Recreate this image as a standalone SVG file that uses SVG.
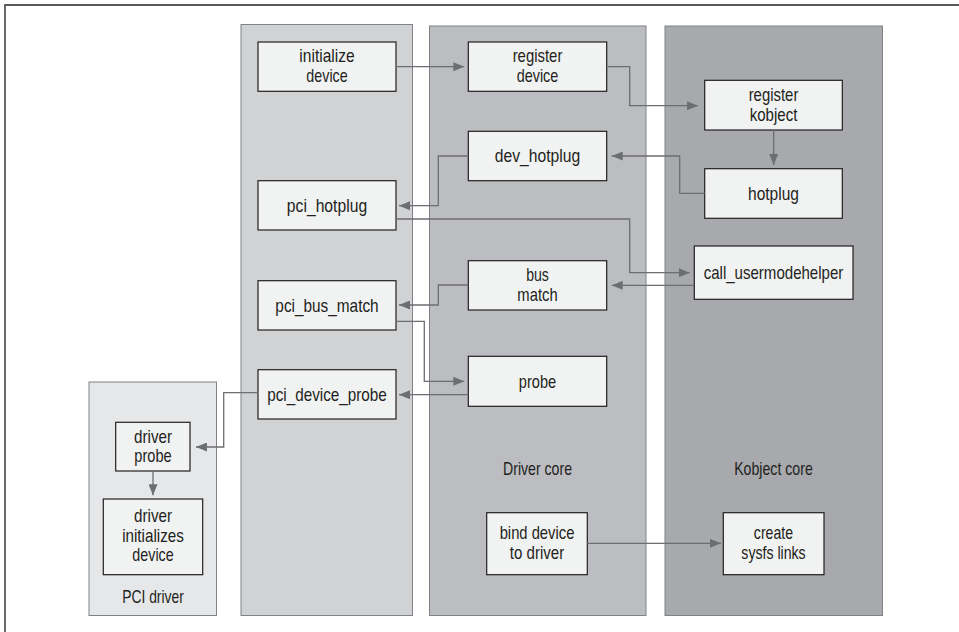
<svg xmlns="http://www.w3.org/2000/svg" width="959" height="632" viewBox="0 0 959 632">
<defs>
<marker id="ah" markerWidth="11" markerHeight="9" refX="11" refY="4.5" orient="auto" markerUnits="userSpaceOnUse">
<path d="M0,0 L11,4.5 L0,9 Z" fill="#6d6e71"/>
</marker>
<style>
.frame{fill:none;stroke:#58595b;stroke-width:1.8}
.col{stroke:#808285;stroke-width:1}
.node rect{fill:#f1f2f2;stroke:#231f20;stroke-width:1.2}
text{font-family:"Liberation Sans",Arial,sans-serif;font-size:19px;fill:#231f20;text-anchor:middle}
.conn path{fill:none;stroke:#6d6e71;stroke-width:1.3;marker-end:url(#ah)}
</style>
</defs>
<rect width="959" height="632" fill="#ffffff"/>
<path class="frame" d="M5,632 V5 H959"/>

<g id="col-pci">
<rect class="col" x="241" y="24.5" width="171.5" height="591" fill="#d1d2d4"/>
</g>
<g id="col-driver-core">
<rect class="col" x="429.5" y="26" width="216.5" height="589.5" fill="#bcbdc0"/>
<text x="537.5" y="474.5" textLength="69" lengthAdjust="spacingAndGlyphs">Driver core</text>
</g>
<g id="col-kobject-core">
<rect class="col" x="665" y="26" width="217.5" height="589.5" fill="#a7a9ac"/>
<text x="773.5" y="474.5" textLength="78.7" lengthAdjust="spacingAndGlyphs">Kobject core</text>
</g>
<g id="col-pci-driver">
<rect class="col" x="89" y="382" width="127.5" height="233.5" fill="#e6e7e8"/>
<text x="153" y="602.5" textLength="61.7" lengthAdjust="spacingAndGlyphs">PCI driver</text>
</g>

<g id="initialize-device" class="node">
<rect x="258" y="42" width="138" height="49.3"/>
<text x="327" y="62.3" textLength="55.3" lengthAdjust="spacingAndGlyphs">initialize</text>
<text x="327" y="81.7" textLength="41.3" lengthAdjust="spacingAndGlyphs">device</text>
</g>
<g id="pci-hotplug" class="node">
<rect x="258" y="180.7" width="138" height="49.3"/>
<text x="327" y="211.5" textLength="80.3" lengthAdjust="spacingAndGlyphs">pci_hotplug</text>
</g>
<g id="pci-bus-match" class="node">
<rect x="258" y="280.7" width="138" height="49.3"/>
<text x="327" y="311.5" textLength="103.3" lengthAdjust="spacingAndGlyphs">pci_bus_match</text>
</g>
<g id="pci-device-probe" class="node">
<rect x="258" y="369.7" width="138" height="49.3"/>
<text x="327" y="400.5" textLength="119.7" lengthAdjust="spacingAndGlyphs">pci_device_probe</text>
</g>

<g id="register-device" class="node">
<rect x="468.3" y="42" width="138.4" height="49.3"/>
<text x="537.5" y="62.3" textLength="49.7" lengthAdjust="spacingAndGlyphs">register</text>
<text x="537.5" y="81.7" textLength="41.7" lengthAdjust="spacingAndGlyphs">device</text>
</g>
<g id="dev-hotplug" class="node">
<rect x="468.3" y="131.3" width="138.4" height="49.4"/>
<text x="537.5" y="162" textLength="85.3" lengthAdjust="spacingAndGlyphs">dev_hotplug</text>
</g>
<g id="bus-match" class="node">
<rect x="468.3" y="260.7" width="138.4" height="49.3"/>
<text x="537.5" y="281" textLength="22.7" lengthAdjust="spacingAndGlyphs">bus</text>
<text x="537.5" y="300.5" textLength="40.3" lengthAdjust="spacingAndGlyphs">match</text>
</g>
<g id="probe" class="node">
<rect x="468.3" y="356.3" width="138.4" height="50"/>
<text x="537.5" y="387.5" textLength="37.3" lengthAdjust="spacingAndGlyphs">probe</text>
</g>
<g id="bind-device" class="node">
<rect x="486.7" y="512.7" width="100.6" height="62"/>
<text x="537" y="539" textLength="74.7" lengthAdjust="spacingAndGlyphs">bind device</text>
<text x="537" y="558.5" textLength="54.3" lengthAdjust="spacingAndGlyphs">to driver</text>
</g>

<g id="register-kobject" class="node">
<rect x="704.7" y="80.3" width="137.6" height="49.7"/>
<text x="773.5" y="101" textLength="49.7" lengthAdjust="spacingAndGlyphs">register</text>
<text x="773.5" y="120.5" textLength="47.7" lengthAdjust="spacingAndGlyphs">kobject</text>
</g>
<g id="hotplug" class="node">
<rect x="704.7" y="168.7" width="137.6" height="49.6"/>
<text x="773.5" y="199.5" textLength="51" lengthAdjust="spacingAndGlyphs">hotplug</text>
</g>
<g id="call-usermodehelper" class="node">
<rect x="694.3" y="246" width="158.7" height="53.3"/>
<text x="773.5" y="278.5" textLength="139.7" lengthAdjust="spacingAndGlyphs">call_usermodehelper</text>
</g>
<g id="create-sysfs-links" class="node">
<rect x="723.3" y="512.7" width="100.7" height="62"/>
<text x="773.5" y="539" textLength="39.3" lengthAdjust="spacingAndGlyphs">create</text>
<text x="773.5" y="558.5" textLength="64.3" lengthAdjust="spacingAndGlyphs">sysfs links</text>
</g>

<g id="driver-probe" class="node">
<rect x="115.7" y="422.3" width="74.3" height="48.7"/>
<text x="153" y="442.5" textLength="38" lengthAdjust="spacingAndGlyphs">driver</text>
<text x="153" y="462" textLength="37.3" lengthAdjust="spacingAndGlyphs">probe</text>
</g>
<g id="driver-initializes-device" class="node">
<rect x="103.3" y="499" width="99.4" height="75.7"/>
<text x="153" y="522" textLength="38" lengthAdjust="spacingAndGlyphs">driver</text>
<text x="153" y="541.5" textLength="61.7" lengthAdjust="spacingAndGlyphs">initializes</text>
<text x="153" y="561" textLength="41.3" lengthAdjust="spacingAndGlyphs">device</text>
</g>

<g id="connectors" class="conn">
<path d="M396,66.7 H464.3"/>
<path d="M606.7,66.7 H629.7 V105.7 H698"/>
<path d="M773.7,130 V165"/>
<path d="M704.7,193.3 H679.7 V156 H611.7"/>
<path d="M468.3,156 H438.3 V205.7 H399"/>
<path d="M396,219 H629.7 V272.7 H689.7"/>
<path d="M694.3,285.3 H611.7"/>
<path d="M468.3,285 H438.3 V305 H399"/>
<path d="M396,321.3 H424.3 V381.3 H464.3"/>
<path d="M468.3,394.7 H399"/>
<path d="M258,392.7 H223.7 V447 H196"/>
<path d="M153,471 V495.3"/>
<path d="M587.3,543.3 H721"/>
</g>
</svg>
